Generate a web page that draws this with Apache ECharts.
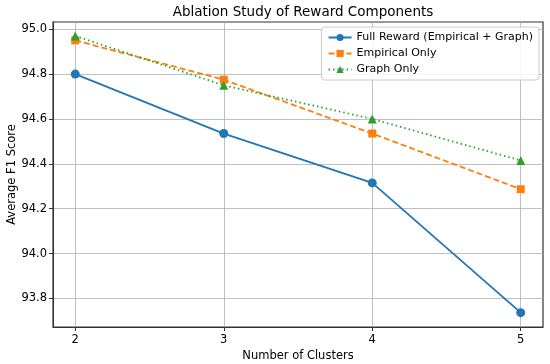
<!DOCTYPE html>
<html><head><meta charset="utf-8">
<script src="https://cdn.jsdelivr.net/npm/echarts@6/dist/echarts.min.js"></script>
<style>html,body{margin:0;padding:0;background:#fff}#c{width:550px;height:364px}</style>
</head><body><div id="c"></div>
<script>
const clusters = [2, 3, 4, 5];
const fullReward = [94.80, 94.535, 94.315, 93.737];
const empiricalOnly = [94.95, 94.775, 94.535, 94.287];
const graphOnly = [94.97, 94.75, 94.60, 94.415];
const yTicks = [93.8, 94.0, 94.2, 94.4, 94.6, 94.8, 95.0];
const seriesNames = ['Full Reward (Empirical + Graph)', 'Empirical Only', 'Graph Only'];

const font = 'DejaVu Sans';
const pair = arr => clusters.map((c, i) => [c, arr[i]]);
const chart = echarts.init(document.getElementById('c'));
chart.setOption({
  animation: false,
  textStyle: {fontFamily: font},
  title: {text: 'Ablation Study of Reward Components', left: 298, top: 0, textAlign: 'center',
    textStyle: {fontFamily: font, fontSize: 13.5, fontWeight: 'normal', color: '#000'}},
  grid: {left: 53, right: 7, top: 22, bottom: 37, show: true, borderColor: '#333', borderWidth: 1.2,
    containLabel: false, outerBoundsMode: 'none'},
  legend: {
    data: seriesNames, orient: 'vertical', right: 11, top: 27,
    itemWidth: 23, itemHeight: 9, itemGap: 5,
    backgroundColor: 'rgba(255,255,255,0.85)', borderColor: '#ccc', borderWidth: 1, borderRadius: 3,
    padding: [5, 6, 5, 6],
    textStyle: {fontFamily: font, fontSize: 11, color: '#000'}
  },
  xAxis: {
    type: 'value', min: 1.85, max: 5.15,
    name: 'Number of Clusters', nameLocation: 'middle', nameGap: 23, nameMoveOverlap: false,
    nameTextStyle: {fontFamily: font, fontSize: 11.5, color: '#000'},
    axisLine: {show: true, lineStyle: {color: '#333'}},
    axisTick: {show: true, customValues: clusters, length: 4, lineStyle: {color: '#333'}},
    axisLabel: {customValues: clusters, fontFamily: font, fontSize: 11.5, color: '#000', margin: 7},
    splitLine: {show: true, lineStyle: {color: '#b0b0b0', width: 0.8}}
  },
  yAxis: {
    type: 'value', min: 93.673, max: 95.032,
    name: 'Average F1 Score', nameLocation: 'middle', nameGap: 35, nameMoveOverlap: false,
    nameTextStyle: {fontFamily: font, fontSize: 11.5, color: '#000'},
    axisLine: {show: true, lineStyle: {color: '#333'}},
    axisTick: {show: true, customValues: yTicks, length: 4, lineStyle: {color: '#333'}},
    axisLabel: {customValues: yTicks, fontFamily: font, fontSize: 11.5, color: '#000', margin: 6,
      formatter: v => v.toFixed(1)},
    splitLine: {show: true, lineStyle: {color: '#b0b0b0', width: 0.8}}
  },
  series: [
    {name: seriesNames[0], type: 'line', data: pair(fullReward), symbol: 'circle', symbolSize: 9,
      itemStyle: {color: '#1f77b4'}, lineStyle: {color: '#1f77b4', width: 1.8, type: 'solid'}},
    {name: seriesNames[1], type: 'line', data: pair(empiricalOnly), symbol: 'rect', symbolSize: 8,
      itemStyle: {color: '#ff7f0e'}, lineStyle: {color: '#ff7f0e', width: 1.8, type: [6, 3]}},
    {name: seriesNames[2], type: 'line', data: pair(graphOnly), symbol: 'triangle', symbolSize: 9,
      itemStyle: {color: '#2ca02c'}, lineStyle: {color: '#2ca02c', width: 1.8, type: [1.5, 3]}}
  ]
});
</script></body></html>
